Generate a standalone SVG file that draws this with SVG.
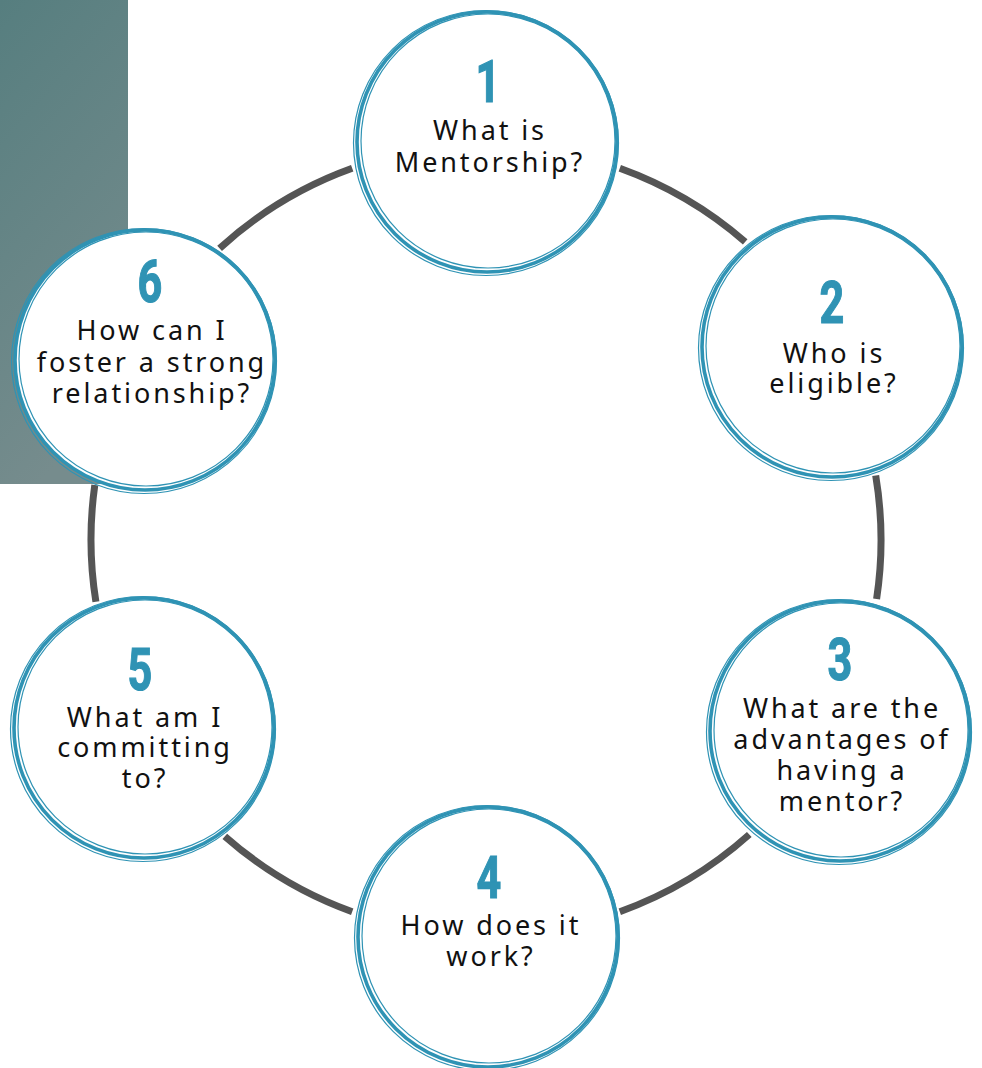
<svg xmlns="http://www.w3.org/2000/svg" width="982" height="1068" viewBox="0 0 982 1068">
<defs>
<linearGradient id="panel" x1="0" y1="0" x2="0.3" y2="1">
<stop offset="0" stop-color="#567e7f"/>
<stop offset="1" stop-color="#768c8d"/>
</linearGradient>
<style>
.ring{fill:none;stroke:#555555;stroke-width:7;stroke-linecap:butt}
.disc{fill:#ffffff;stroke:#2f93b4;stroke-width:3.6}
.thin{fill:none;stroke:#2f93b4;stroke-width:1.2}
.num{font-family:Roboto,"Liberation Sans",sans-serif;font-weight:bold;font-size:60px;fill:#2f93b4;text-anchor:middle;stroke:#2f93b4;stroke-width:1.2}
.lbl{font-family:"Noto Sans","Open Sans",sans-serif;font-size:27px;fill:#111111;text-anchor:middle;letter-spacing:2.9px}
</style>
</defs>
<rect x="0" y="0" width="982" height="1068" fill="#ffffff"/>
<rect x="0" y="0" width="128" height="484" fill="url(#panel)"/>
<g id="connectors">
<path class="ring" d="M619.8 168.3 A395 395 0 0 1 745.2 241.9"/>
<path class="ring" d="M875.7 475.5 A395 395 0 0 1 876.6 599.1"/>
<path class="ring" d="M749.3 834.5 A395 395 0 0 1 619.8 911.7"/>
<path class="ring" d="M352.2 911.7 A395 395 0 0 1 224.8 836.3"/>
<path class="ring" d="M95.9 601.8 A395 395 0 0 1 94.8 485.0"/>
<path class="ring" d="M219.6 248.3 A395 395 0 0 1 352.2 168.3"/>
</g>
<g id="node1">
<circle class="disc" cx="487" cy="142" r="130"/>
<circle class="thin" cx="488" cy="141" r="127"/>
<circle class="thin" cx="486" cy="143" r="132.5"/>
<text class="num" transform="translate(488,102) scale(0.72,1)">1</text>
<text class="lbl" x="490" y="140">What is</text>
<text class="lbl" x="490" y="172">Mentorship?</text>
</g>
<g id="node2">
<circle class="disc" cx="832" cy="347" r="130"/>
<circle class="thin" cx="833" cy="346" r="127"/>
<circle class="thin" cx="831" cy="348" r="132.5"/>
<text class="num" transform="translate(832,323) scale(0.72,1)">2</text>
<text class="lbl" x="834" y="363">Who is</text>
<text class="lbl" x="834" y="393">eligible?</text>
</g>
<g id="node3">
<circle class="disc" cx="840" cy="731" r="130"/>
<circle class="thin" cx="841" cy="730" r="127"/>
<circle class="thin" cx="839" cy="732" r="132.5"/>
<text class="num" transform="translate(840,680) scale(0.72,1)">3</text>
<text class="lbl" x="842" y="718">What are the</text>
<text class="lbl" x="842" y="749">advantages of</text>
<text class="lbl" x="842" y="780">having a</text>
<text class="lbl" x="842" y="811">mentor?</text>
</g>
<g id="node4">
<circle class="disc" cx="488" cy="937" r="130"/>
<circle class="thin" cx="489" cy="936" r="127"/>
<circle class="thin" cx="487" cy="938" r="132.5"/>
<text class="num" transform="translate(489,898) scale(0.72,1)">4</text>
<text class="lbl" x="491" y="935">How does it</text>
<text class="lbl" x="491" y="966">work?</text>
</g>
<g id="node5">
<circle class="disc" cx="144" cy="728" r="130"/>
<circle class="thin" cx="145" cy="727" r="127"/>
<circle class="thin" cx="143" cy="729" r="132.5"/>
<text class="num" transform="translate(140,690) scale(0.72,1)">5</text>
<text class="lbl" x="145" y="727">What am I</text>
<text class="lbl" x="145" y="757">committing</text>
<text class="lbl" x="145" y="788">to?</text>
</g>
<g id="node6">
<circle class="disc" cx="145" cy="360" r="130"/>
<circle class="thin" cx="146" cy="359" r="127"/>
<circle class="thin" cx="144" cy="361" r="132.5"/>
<text class="num" transform="translate(150,302) scale(0.72,1)">6</text>
<text class="lbl" x="152" y="340">How can I</text>
<text class="lbl" x="152" y="372">foster a strong</text>
<text class="lbl" x="152" y="403">relationship?</text>
</g>
</svg>
